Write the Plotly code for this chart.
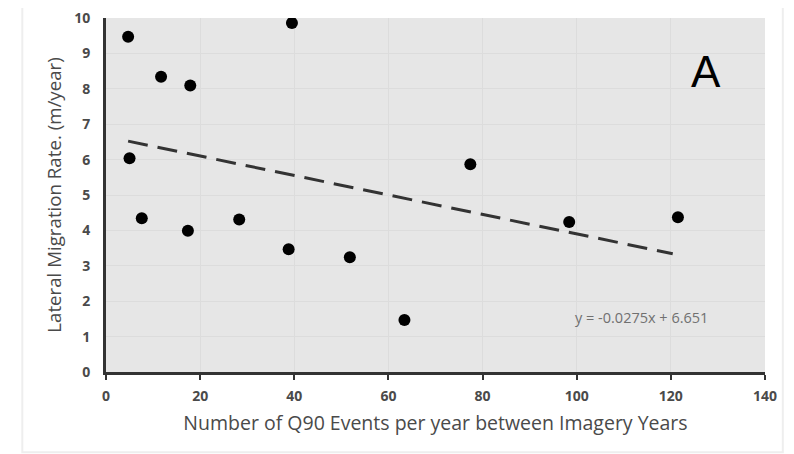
import plotly.graph_objects as go

# Data
q90_events = [4.7, 11.7, 17.9, 39.5, 5.0, 7.6, 17.4, 28.3, 38.8, 51.8, 63.4, 77.4, 98.4, 121.5]
migration_rate = [9.47, 8.34, 8.09, 9.86, 6.04, 4.34, 3.99, 4.31, 3.47, 3.24, 1.47, 5.87, 4.24, 4.37]
trend_slope = -0.0275
trend_intercept = 6.651
x_ticks = [0, 20, 40, 60, 80, 100, 120, 140]
y_ticks = [0, 1, 2, 3, 4, 5, 6, 7, 8, 9, 10]

trend_x = [min(q90_events), 120.4]
trend_y = [trend_slope * v + trend_intercept for v in trend_x]

fig = go.Figure()
fig.add_trace(go.Scatter(
    x=trend_x, y=trend_y, mode="lines",
    line=dict(color="#333333", width=3, dash="20px,10px"),
    showlegend=False, hoverinfo="skip"))
fig.add_trace(go.Scatter(
    x=q90_events, y=migration_rate, mode="markers",
    marker=dict(color="black", size=12),
    showlegend=False))

tick_font = dict(family="Open Sans, Arial, sans-serif", size=14, color="#4a4a4a", weight="bold")

fig.update_xaxes(
    range=[0, 140], tickvals=x_ticks, ticks="outside", ticklen=5, tickwidth=2,
    tickcolor="#333333", showline=True, linecolor="#333333", linewidth=3,
    showgrid=True, gridcolor="#dcdcdc", gridwidth=1, zeroline=False,
    tickfont=tick_font, automargin=False, ticklabelstandoff=4, ticklabeloverflow="allow",
    title=dict(text="Number of Q90 Events per year between Imagery Years",
               font=dict(family="Open Sans, Arial, sans-serif", size=19.5, color="#4a4a4a"), standoff=13))
fig.update_yaxes(
    range=[0, 10], tickvals=y_ticks, ticks="", showline=True, linecolor="#333333", linewidth=3,
    showgrid=True, gridcolor="#dcdcdc", gridwidth=1, zeroline=False,
    tickfont=tick_font, automargin=False, ticklabelstandoff=10, ticklabeloverflow="allow",
    title=dict(text="Lateral Migration Rate. (m/year)",
               font=dict(family="Open Sans, Arial, sans-serif", size=18.7, color="#4a4a4a"), standoff=8))

fig.add_annotation(x=0.910, y=0.850, xref="paper", yref="paper", text="A", showarrow=False,
                   xanchor="center", yanchor="middle",
                   font=dict(family="Liberation Sans, Arial, sans-serif", size=44, color="black"))
fig.add_annotation(x=0.813, y=0.153, xref="paper", yref="paper", text="y = -0.0275x + 6.651",
                   showarrow=False, xanchor="center", yanchor="middle",
                   font=dict(family="Open Sans, Arial, sans-serif", size=14.5, color="#707070"))

fig.add_shape(type="rect", xref="paper", yref="paper", x0=-0.127, x1=1.027, y0=-0.227, y1=1.045,
              line=dict(color="#eeeeee", width=2), layer="below")

fig.update_layout(
    width=794, height=454,
    margin=dict(l=98, r=37, t=10, b=90),
    paper_bgcolor="white", plot_bgcolor="#e6e6e6",
)

fig.write_html("out.html")
